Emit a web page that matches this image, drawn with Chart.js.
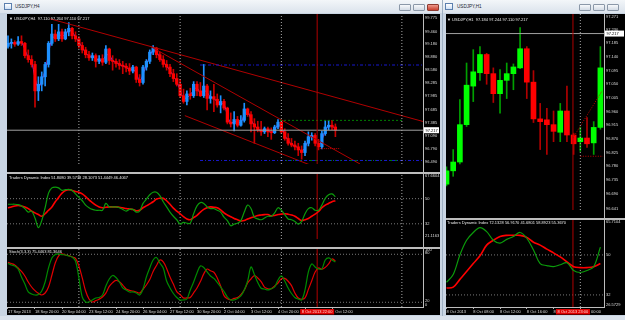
<!DOCTYPE html>
<html>
<head>
<meta charset="utf-8">
<script src="https://cdn.jsdelivr.net/npm/chart.js@4.4.0/dist/chart.umd.min.js"></script>
<style>
  html, body { margin: 0; padding: 0; }
  body { width: 625px; height: 320px; position: relative; overflow: hidden; background: #dae2ec; font-family: "Liberation Sans", Arial, sans-serif; }
  .box { position: absolute; }
  .frame { background: #c9d5e3; }
  .title { background: linear-gradient(#f3f6f9, #dbe3ec); top: 0; height: 13px; }
  .black { background: #000; }
  .sep { background: #bdbdbd; z-index: 3; }
  .txt { position: absolute; color: #e8e8e8; font-size: 4px; line-height: 5px; white-space: nowrap; z-index: 4; }
  .ttl { position: absolute; color: #1a2430; font-size: 4.6px; line-height: 6px; white-space: nowrap; }
  .btn { position: absolute; top: 4px; height: 7px; width: 12px; box-sizing: border-box; border: 1px solid #8b98a8; border-radius: 1px; background: linear-gradient(#f7f9fb, #d3dbe5); }
  .icon { position: absolute; top: 3px; width: 8px; height: 7px; box-sizing: border-box; border: 1px solid #5b7fae; background: linear-gradient(#ffffff, #cfe0f5); }
  canvas { position: absolute; left: 0; top: 0; z-index: 2; }
</style>
</head>
<body>
<!-- left window (H4) -->
<div class="box frame" style="left:0;top:0;width:442px;height:316px"></div>
<div class="box title" style="left:0;width:442px"></div>
<div class="icon" style="left:4px"></div>
<div class="ttl" style="left:15px;top:4px">USDJPY,H4</div>
<div class="btn" style="left:399px"></div>
<div class="btn" style="left:413px"></div>
<div class="btn" style="left:427px;background:linear-gradient(#ee9a8c,#c8402f);border-color:#8e3a30"></div>
<div class="box black" style="left:7px;top:14px;width:433px;height:301px"></div>

<!-- right window (H1) -->
<div class="box frame" style="left:442px;top:0;width:183px;height:316px;border-left:1px solid #9fb0c3"></div>
<div class="box title" style="left:443px;width:182px"></div>
<div class="icon" style="left:445px"></div>
<div class="ttl" style="left:457px;top:4px">USDJPY,H1</div>
<div class="btn" style="left:579px"></div>
<div class="btn" style="left:593px"></div>
<div class="btn" style="left:607px"></div>
<div class="box black" style="left:446px;top:14px;width:179px;height:301px"></div>

<!-- panel frames -->
<div class="box sep" style="left:7px;top:172px;width:433px;height:2px"></div>
<div class="box sep" style="left:7px;top:247px;width:433px;height:2px"></div>
<div class="box sep" style="left:423px;top:14px;width:1px;height:294px"></div>
<div class="box sep" style="left:7px;top:307px;width:417px;height:1px"></div>
<div class="box sep" style="left:446px;top:218px;width:179px;height:2px"></div>
<div class="box sep" style="left:604px;top:14px;width:1px;height:294px"></div>
<div class="box sep" style="left:446px;top:307px;width:159px;height:1px"></div>

<canvas id="h4Main" width="625" height="320"></canvas>
<canvas id="h4Tdi" width="625" height="320"></canvas>
<canvas id="h4Stoch" width="625" height="320"></canvas>
<canvas id="h1Main" width="625" height="320"></canvas>
<canvas id="h1Tdi" width="625" height="320"></canvas>

<div class="txt" style="left:9px;top:15.5px">&#9660; USDJPY,H4&nbsp; 97.110 97.264 97.110 97.217</div>
<div class="txt" style="left:9px;top:174.5px">Traders Dynamic Index 51.8080 39.5738 28.1073 51.4449 46.4067</div>
<div class="txt" style="left:9px;top:248.5px">Stoch(3,3,3) 75.4463 81.3646</div>
<div class="txt" style="left:447px;top:16.5px">&#9660; USDJPY,H1&nbsp; 97.184 97.244 97.110 97.217</div>
<div class="txt" style="left:447px;top:219.5px">Traders Dynamic Index 72.1328 56.9170 41.6801 58.8923 55.3670</div>

<script>
// ---- H4 chart data (left window) ----
const h4Open = [99.12,99.19,99.21,99.17,99.23,99.19,98.91,98.82,98.71,98.11, 98.26,98.43,98.71,99.19,99.40,99.29,99.45,99.29,99.45,99.53,
  99.36,99.29,99.14,99.04,98.93,98.86,98.91,98.78,98.84,98.76, 99.06,98.80,98.78,98.73,98.69,98.67,98.63,98.56,98.65,98.37,
  98.30,98.65,98.78,98.99,99.08,98.93,98.82,98.71,98.65,98.50, 98.39,98.26,98.00,97.87,98.04,98.00,98.26,98.11,98.00,98.22,
  97.94,97.98,97.92,97.79,97.87,97.72,97.40,97.36,97.46,97.33, 97.44,97.70,97.57,97.36,97.29,97.23,97.18,97.25,97.18,97.16,
  97.29,97.40,97.18,97.03,96.92,96.88,96.84,96.77,96.71,96.92, 97.07,97.10,96.92,96.84,97.14,97.29,97.33,97.29];
const h4High = [99.36,99.29,99.25,99.34,99.36,99.21,99.04,98.91,98.78,98.43, 98.54,98.76,99.23,99.62,99.49,99.62,99.51,99.51,99.66,99.55,
  99.45,99.34,99.21,99.10,99.01,98.97,98.95,98.91,98.93,99.14, 99.08,98.91,98.84,98.82,98.78,98.73,98.73,98.69,98.67,98.48,
  98.69,98.82,99.04,99.14,99.10,98.99,98.91,98.80,98.71,98.60, 98.50,98.37,98.15,98.11,98.17,98.32,98.32,98.30,98.71,98.26,
  98.11,98.26,98.04,98.00,97.92,97.74,97.61,97.64,97.53,97.55, 97.83,97.72,97.64,97.48,97.42,97.42,97.29,97.29,97.27,97.33,
  97.46,97.42,97.25,97.14,97.03,96.97,96.92,96.86,96.97,97.18, 97.16,97.14,97.01,97.20,97.44,97.44,97.44,97.36];
const h4Low = [99.08,99.08,99.12,99.14,99.14,98.86,98.76,98.65,97.74,97.89, 98.11,98.22,98.65,99.14,99.23,99.25,99.23,99.27,99.36,99.29,
  99.23,99.08,98.97,98.86,98.80,98.80,98.65,98.73,98.69,98.73, 98.71,98.58,98.65,98.60,98.50,98.54,98.48,98.52,98.30,98.22,
  98.26,98.58,98.73,98.93,98.86,98.78,98.65,98.58,98.43,98.32, 98.22,97.96,97.83,97.79,97.92,97.96,98.00,97.98,97.96,97.68,
  97.83,97.64,97.74,97.61,97.68,97.36,97.29,97.20,97.29,97.31, 97.40,97.53,97.18,96.92,97.18,97.10,97.14,97.07,97.01,97.14,
  97.25,97.14,96.99,96.88,96.84,96.77,96.64,96.56,96.64,96.86, 96.99,96.86,96.77,96.79,97.10,97.23,97.23,97.07];
const h4Close = [99.19,99.21,99.17,99.23,99.19,98.91,98.82,98.71,98.11,98.26, 98.43,98.71,99.19,99.40,99.29,99.45,99.29,99.45,99.53,99.36,
  99.29,99.14,99.04,98.93,98.86,98.91,98.78,98.84,98.76,99.06, 98.80,98.78,98.73,98.69,98.67,98.63,98.56,98.65,98.37,98.30,
  98.65,98.78,98.99,99.08,98.93,98.82,98.71,98.65,98.50,98.39, 98.26,98.00,97.87,98.04,98.00,98.26,98.11,98.00,98.22,97.94,
  97.98,97.92,97.79,97.87,97.72,97.40,97.36,97.46,97.33,97.44, 97.70,97.57,97.36,97.29,97.23,97.18,97.25,97.18,97.16,97.29,
  97.40,97.18,97.03,96.92,96.88,96.84,96.77,96.71,96.92,97.07, 97.10,96.92,96.84,97.14,97.29,97.33,97.29,97.22];
const h4Ma = [99.15,99.20,99.19,99.20,99.21,99.05,98.86,98.77,98.41,98.18, 98.35,98.57,98.95,99.29,99.35,99.37,99.37,99.37,99.49,99.45,
  99.33,99.22,99.09,98.98,98.90,98.88,98.84,98.81,98.80,98.91, 98.93,98.79,98.76,98.71,98.68,98.65,98.59,98.60,98.51,98.33,
  98.48,98.71,98.88,99.04,99.00,98.87,98.77,98.68,98.57,98.44, 98.32,98.13,97.94,97.96,98.02,98.13,98.18,98.05,98.11,98.08,
  97.96,97.95,97.85,97.83,97.80,97.56,97.38,97.41,97.40,97.39, 97.57,97.64,97.46,97.32,97.26,97.20,97.21,97.21,97.17,97.23,
  97.34,97.29,97.11,96.98,96.90,96.86,96.81,96.74,96.82,97.00, 97.09,97.01,96.88,96.99,97.21,97.31,97.31,97.25];
const h4TdiPrice = [46.0,46.0,46.0,45.7,44.8,42.9,40.4,41.1,36.1,29.3, 34.3,43.5,54.0,57.7,58.3,57.7,55.9,56.5,56.5,55.9,
  53.4,50.9,48.5,45.4,43.5,42.3,41.7,41.7,41.7,46.6, 44.1,44.1,44.1,43.5,42.3,41.1,42.3,42.3,40.4,41.1,
  46.6,49.7,52.8,54.6,54.6,52.2,47.8,44.1,40.4,37.4, 34.9,31.8,33.0,32.4,32.4,39.2,44.8,47.2,46.6,44.1,
  42.9,42.9,41.7,40.4,36.7,34.3,30.6,31.8,32.4,34.3, 40.4,45.4,42.9,36.7,35.5,34.9,36.1,37.4,37.4,39.8,
  43.5,41.7,38.6,35.5,34.9,33.7,31.8,33.7,39.2,42.9, 43.5,41.7,41.7,45.4,50.3,52.8,53.4,51.4];
const h4TdiSignal = [43.5,44.1,44.8,45.1,44.8,44.1,42.9,41.1,39.8,38.6, 37.4,39.2,41.7,44.1,47.8,50.9,54.0,55.9,56.5,55.9,
  55.2,54.6,53.4,51.5,49.1,47.2,45.4,44.1,43.5,43.8, 44.1,44.1,44.1,43.8,43.5,42.9,42.6,42.3,41.4,41.7,
  43.5,44.8,46.3,47.8,49.7,50.3,50.3,48.5,46.0,43.2, 41.1,39.2,37.1,35.5,34.9,36.4,38.0,40.4,42.3,43.5,
  44.1,43.8,43.5,42.0,39.8,38.3,37.1,35.8,34.9,34.0, 34.3,35.5,36.4,37.1,38.0,38.3,38.6,38.6,37.7,38.0,
  38.6,38.9,39.2,38.9,38.3,37.4,35.8,34.3,34.9,35.8, 37.4,38.9,40.8,43.5,45.4,46.6,47.8,48.5];
const h4StochMain = [68.6,66.6,65.4,61.6,51.6,42.9,32.9,30.4,29.1,29.6, 34.1,45.4,62.9,75.4,79.8,80.4,79.6,79.1,77.9,76.6,
  71.6,50.4,26.6,20.4,20.4,22.9,25.4,26.0,29.1,40.4, 49.1,53.5,51.0,45.4,37.9,35.4,32.9,32.9,31.6,29.1,
  36.6,51.6,62.9,72.9,76.0,69.1,62.9,46.6,37.9,31.0, 26.0,22.9,22.9,24.1,35.4,45.4,56.6,65.4,63.5,57.9,
  52.9,49.8,44.8,39.1,33.5,26.6,22.9,22.9,24.8,27.9, 35.4,46.6,64.1,54.8,44.8,37.5,36.6,35.4,37.0,39.1,
  47.9,52.9,46.6,37.9,31.0,26.0,24.1,22.9,35.4,57.9, 67.9,64.1,61.6,61.6,72.9,75.4,72.9,70.4];
const h4StochSignal = [69.9,68.4,66.6,62.9,58.5,52.9,45.4,39.1,34.5,31.2, 29.1,31.6,39.1,53.8,69.1,77.9,80.4,79.1,78.3,76.6,
  74.9,65.4,50.4,34.1,24.1,20.4,22.1,23.9,26.6,31.4, 39.9,44.6,47.4,45.6,41.4,36.6,34.9,34.1,32.9,31.6,
  36.3,41.6,48.4,58.5,66.0,72.8,70.6,62.3,51.6,42.7, 33.3,29.8,25.4,25.4,25.9,31.8,37.9,45.9,55.5,61.5,
  59.4,57.5,50.4,40.4,28.3,24.4,23.1,24.8,25.9,29.5, 35.4,44.1,49.1,53.4,50.4,45.9,38.9,36.9,36.9,40.4,
  44.1,49.3,49.9,46.3,40.8,31.6,25.3,23.8,25.4,36.1, 46.8,57.8,62.9,61.3,63.6,67.9,74.1,71.6];
const h4PriceTicks = [99.775, 99.460, 99.180, 98.880, 98.580, 98.285, 97.985, 97.685, 97.385, 97.090, 96.790, 96.490];
const h4TimeLabels = ['17 Sep 2013','18 Sep 20:00','20 Sep 04:00','23 Sep 12:00','24 Sep 20:00','26 Sep 04:00','27 Sep 12:00',
  '30 Sep 20:00','2 Oct 04:00','3 Oct 12:00','4 Oct 20:00','8 Oct 04:00','9 Oct 12:00'];
const h4TimeTicks = [0, 8, 16, 24, 32, 40, 48, 56, 64, 72, 80, 88, 96];
const h4Separators = [21, 51, 81, 116.7];
const h4VLine = 91.6;
// trend lines: [bar, price, bar, price]
const h4Trends = [[12.4, 99.747, 122.96, 97.415], [42.1, 99.122, 104.3, 96.45], [52.4, 97.548, 89.5, 96.428]];

// ---- H1 chart data (right window) ----
const h1Open = [96.721,96.765,96.794,96.917,97.044,97.088,97.148,97.085,97.019,97.063,97.085,97.104,
  97.167,97.057,96.936,96.933,96.917,96.892,96.962,96.883,96.861,96.873,96.857,96.908];
const h1High = [96.778,96.835,97.000,97.120,97.164,97.174,97.152,97.104,97.098,97.120,97.117,97.237,
  97.174,97.095,96.987,96.971,96.962,96.987,97.044,96.889,96.908,96.940,96.927,97.174];
const h1Low = [96.715,96.747,96.788,96.911,96.993,97.063,97.050,96.990,96.955,97.003,97.032,97.101,
  97.003,96.924,96.835,96.819,96.861,96.861,96.861,96.819,96.829,96.842,96.819,96.902];
const h1Close = [96.765,96.794,96.917,97.047,97.091,97.148,97.085,97.019,97.063,97.085,97.107,97.167,
  97.057,96.936,96.927,96.917,96.895,96.962,96.883,96.854,96.873,96.854,96.908,97.104];
const h1TdiPrice = [37.7,41.2,50.0,56.6,60.1,62.3,60.5,56.6,55.3,57.0,58.3,60.1,57.5,52.2,46.1,45.2,44.7,45.6,46.5,43.0,42.1,43.0,44.7,53.5];
const h1TdiSignal = [35.1,35.5,39.0,42.5,46.1,49.6,54.4,56.6,58.3,58.8,58.8,58.8,57.9,55.7,54.4,52.6,50.9,49.1,46.9,44.7,44.3,44.3,44.7,46.1];
const h1PriceTicks = [97.271, 97.230, 97.185, 97.140, 97.095, 97.050, 97.005, 96.960, 96.915, 96.870, 96.825, 96.780, 96.735, 96.690, 96.641];
const h1TimeLabels = ['8 Oct 2013','8 Oct 08:00','8 Oct 12:00','8 Oct 16:00','8 Oct 20:00','9 Oct 00:00'];
const h1TimeTicks = [0, 4, 8, 12, 16, 20];
const h1Separators = [20];
const h1VLine = 18.9;

const lastPrice = 97.217;

const FONT = '"Liberation Sans", Arial, sans-serif';
Chart.defaults.font.family = FONT;
Chart.defaults.font.size = 4;
Chart.defaults.color = '#dedede';

function candles(o, h, l, c, col, bodyW) {
  const up = c.map((v, i) => v >= o[i]);
  return [
    { type: 'bar', order: 3, grouped: false, clip: 0, barThickness: 1,
      data: h.map((v, i) => ({ x: i, y: [l[i], v] })),
      backgroundColor: up.map(u => u ? col.upWick : col.downWick) },
    { type: 'bar', order: 2, grouped: false, clip: 0, barThickness: bodyW, minBarLength: 1,
      data: o.map((v, i) => ({ x: i, y: [v, c[i]] })),
      backgroundColor: up.map(u => u ? col.up : col.down) }
  ];
}

function seg(x0, y0, x1, y1, color, width, dash) {
  return { type: 'line', order: 1, clip: 0, data: [{ x: x0, y: y0 }, { x: x1, y: y1 }],
    borderColor: color, borderWidth: width, borderDash: dash || [], pointRadius: 0, tension: 0 };
}

function series(values, color, width, order) {
  return { type: 'line', order: order || 0, clip: 0, data: values.map((v, i) => ({ x: i, y: v })),
    borderColor: color, borderWidth: width, pointRadius: 0, tension: 0.35 };
}

function priceBox(value, text) {
  return { id: 'priceBox', afterDraw(chart) {
    const { ctx, chartArea, scales: { y } } = chart;
    const py = y.getPixelForValue(value);
    ctx.save();
    ctx.fillStyle = '#ffffff';
    ctx.fillRect(chartArea.right + 1, py - 3, y.width - 2, 6);
    ctx.fillStyle = '#000000';
    ctx.font = '4px ' + FONT;
    ctx.textBaseline = 'middle';
    ctx.fillText(text, chartArea.right + 2.5, py + 0.3);
    ctx.restore();
  } };
}

function timeBox(idx, text) {
  return { id: 'timeBox', afterDraw(chart) {
    const { ctx, chartArea, scales: { x } } = chart;
    const px = x.getPixelForValue(idx);
    ctx.save();
    ctx.fillStyle = '#e00000';
    ctx.fillRect(px - 17, chartArea.bottom + 2, 34, 5.5);
    ctx.fillStyle = '#ffd8d8';
    ctx.font = '4px ' + FONT;
    ctx.textAlign = 'center';
    ctx.textBaseline = 'middle';
    ctx.fillText(text, px, chartArea.bottom + 4.9, 32);
    ctx.restore();
  } };
}

function panel(p) {
  const xAxis = {
    type: 'linear', min: p.xMin, max: p.xMax, offset: false,
    display: !!p.xTicks,
    border: { display: false },
    grid: { drawOnChartArea: false, drawTicks: true, tickLength: 2, color: '#b0b0b0', offset: false },
    ticks: { autoSkip: false, maxRotation: 0, align: 'start', padding: 0.5, color: '#dedede',
      callback: (v, i) => p.xLabels ? p.xLabels[i] : '' },
    afterBuildTicks: s => { if (p.xTicks) s.ticks = p.xTicks.map(v => ({ value: v })); },
    afterFit: s => { s.height = 8; }
  };
  return {
    type: 'bar',
    data: { datasets: p.datasets },
    options: {
      responsive: false, animation: false, events: [],
      layout: { padding: p.padding },
      plugins: { legend: { display: false }, tooltip: { enabled: false } },
      scales: {
        x: xAxis,
        y: {
          type: 'linear', position: 'right', min: p.yMin, max: p.yMax,
          border: { display: false },
          grid: { display: false, drawTicks: false },
          ticks: { autoSkip: false, padding: 2, color: '#dedede',
            callback: (v, i) => p.yLabels ? p.yLabels[i] : Number(v).toFixed(3) },
          afterBuildTicks: s => { s.ticks = p.yTicks.map(v => ({ value: v })); },
          afterFit: s => { s.width = p.axisW; }
        }
      }
    },
    plugins: p.extra || []
  };
}

function vlines(list, yMin, yMax, redIdx) {
  const out = list.map(i => seg(i, yMin, i, yMax, '#a8a8a8', 1, [1, 2]));
  out.push(seg(redIdx, yMin, redIdx, yMax, '#b00000', 1));
  return out;
}

// ---- left window panels ----
const H4X = { xMin: -0.296, xMax: 122.96 };
const h4Cols = { up: '#1e90ff', down: '#ff0000', upWick: '#1e90ff', downWick: '#c80000' };

new Chart(document.getElementById('h4Main'), panel({
  ...H4X, yMin: 96.450, yMax: 99.855, axisW: 17, yTicks: h4PriceTicks,
  padding: { left: 7, top: 14, right: 185, bottom: 148 },
  datasets: [
    ...vlines(h4Separators, 96.450, 99.855, h4VLine),
    seg(H4X.xMin, lastPrice, H4X.xMax, lastPrice, '#a0a0a0', 1),
    seg(56.9, 98.697, H4X.xMax, 98.697, '#1818d0', 1, [3, 2, 1, 2]),
    seg(56.9, 96.53, H4X.xMax, 96.53, '#1818d0', 1, [3, 2, 1, 2]),
    seg(80.6, 96.53, 117, 96.53, '#008000', 1, [2, 3]),
    seg(80.6, 97.44, 117, 97.44, '#008000', 1, [2, 2]),
    seg(92.4, 96.80, 98.4, 96.80, '#c00000', 1, [1, 1]),
    ...h4Trends.map(t => seg(t[0], t[1], t[2], t[3], '#b00000', 1)),
    ...candles(h4Open, h4High, h4Low, h4Close, h4Cols, 2.6),
    series(h4Ma, '#a431d6', 1, 2.5)
  ],
  extra: [priceBox(lastPrice, '97.217')]
}));

new Chart(document.getElementById('h4Tdi'), panel({
  ...H4X, yMin: 21.1163, yMax: 67.6604, axisW: 17,
  yTicks: [66.4, 50, 32, 23.5], yLabels: ['67.6604', '50', '32', '21.1163'],
  padding: { left: 7, top: 174, right: 185, bottom: 73 },
  datasets: [
    ...vlines(h4Separators, 21.1163, 67.6604, h4VLine),
    seg(H4X.xMin, 50, H4X.xMax, 50, '#7a7a7a', 1, [1, 2]),
    seg(H4X.xMin, 32, H4X.xMax, 32, '#7a7a7a', 1, [1, 2]),
    series(h4TdiPrice, '#0b9b0b', 1.2),
    series(h4TdiSignal, '#ff0000', 1.6)
  ]
}));

new Chart(document.getElementById('h4Stoch'), panel({
  ...H4X, yMin: 14.1, yMax: 86.6, axisW: 17,
  yTicks: [85.4, 81.6, 21.6, 16.6], yLabels: ['100', '80', '20', '0'],
  xTicks: h4TimeTicks, xLabels: h4TimeLabels,
  padding: { left: 7, top: 249, right: 185, bottom: 5 },
  datasets: [
    ...vlines(h4Separators, 14.1, 86.6, h4VLine),
    seg(H4X.xMin, 80, H4X.xMax, 80, '#7a7a7a', 1, [1, 2]),
    seg(H4X.xMin, 20, H4X.xMax, 20, '#7a7a7a', 1, [1, 2]),
    series(h4StochMain, '#008a00', 1.2),
    series(h4StochSignal, '#e00000', 1.2)
  ],
  extra: [timeBox(h4VLine, '8 Oct 2013 22:00')]
}));

// ---- right window panels ----
const H1X = { xMin: -0.075, xMax: 23.54 };
const h1Cols = { up: '#00ff00', down: '#ff0000', upWick: '#00a000', downWick: '#b00000' };

new Chart(document.getElementById('h1Main'), panel({
  ...H1X, yMin: 96.636, yMax: 97.2814, axisW: 21, yTicks: h1PriceTicks,
  padding: { left: 446, top: 14, right: 0, bottom: 102 },
  datasets: [
    ...vlines(h1Separators, 96.636, 97.2814, h1VLine),
    seg(H1X.xMin, lastPrice, H1X.xMax, lastPrice, '#a0a0a0', 1),
    seg(h1VLine, 96.873, 23.25, 97.028, '#c00000', 1, [1, 1.5]),
    seg(20, 96.813, 23.4, 96.813, '#c00000', 1, [1, 1.5]),
    ...candles(h1Open, h1High, h1Low, h1Close, h1Cols, 5)
  ],
  extra: [priceBox(lastPrice, '97.217')]
}));

new Chart(document.getElementById('h1Tdi'), panel({
  ...H1X, yMin: 26.5729, yMax: 65.7104, axisW: 21,
  yTicks: [64.81, 50, 32, 27.47], yLabels: ['65.7104', '50', '32', '26.5729'],
  xTicks: h1TimeTicks, xLabels: h1TimeLabels,
  padding: { left: 446, top: 220, right: 0, bottom: 5 },
  datasets: [
    ...vlines(h1Separators, 26.5729, 65.7104, h1VLine),
    seg(H1X.xMin, 50, H1X.xMax, 50, '#7a7a7a', 1, [1, 2]),
    seg(H1X.xMin, 32, H1X.xMax, 32, '#7a7a7a', 1, [1, 2]),
    series(h1TdiPrice, '#0b9b0b', 1.2),
    series(h1TdiSignal, '#ff0000', 1.6)
  ],
  extra: [timeBox(h1VLine, '8 Oct 2013 23:00')]
}));
</script>
</body>
</html>
